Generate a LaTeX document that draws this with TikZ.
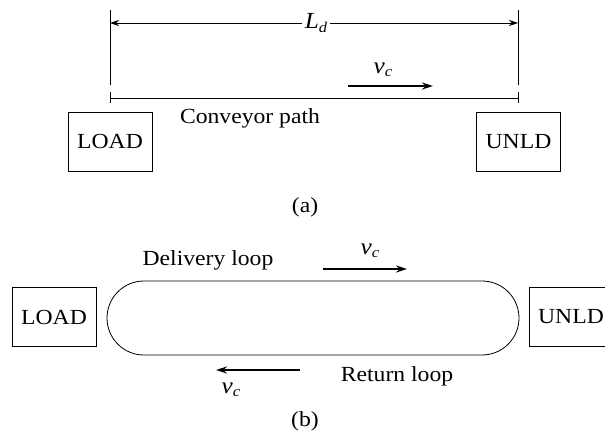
\documentclass[tikz,border=0pt]{standalone}
\usepackage{fontspec}
\setmainfont{Liberation Serif}[FakeStretch=1.1]
\usetikzlibrary{arrows.meta}
\newcommand{\mysub}[2]{{\fontsize{23}{24}\selectfont\textit{#1}}\raisebox{-0.35ex}{\fontsize{15}{15}\selectfont\textit{#2}}}
\begin{document}
\begin{tikzpicture}[x=1pt,y=-1pt,
  every node/.style={font=\fontsize{21.5}{23}\selectfont, inner sep=0pt},
  stationbox/.style={draw, line width=0.8pt, minimum width=84pt, minimum height=59pt},
  thin line/.style={line width=0.8pt},
  vel arrow/.style={line width=1.5pt, -{Stealth[length=11pt,width=7pt]}},
  dim arrow/.style={line width=0.8pt, -{Stealth[length=9pt,width=6pt]}}]
\useasboundingbox (0,0) rectangle (605,434);
% ---------- (a) ----------
\coordinate (lt) at (110,10);
\coordinate (lb) at (110,85);
\coordinate (rt) at (518,10);
\coordinate (rb) at (518,85);
\draw[thin line] (lt) -- (lb);
\draw[thin line] (rt) -- (rb);
\node (Ld) at (316,23) {\mysub{L}{d}};
\coordinate (dl) at (110,23);
\coordinate (dr) at (518,23);
\draw[dim arrow] (Ld.west) ++(-3,0) -- (dl);
\draw[dim arrow] (Ld.east) ++(3,0) -- (dr);
\coordinate (pl) at (110,98);
\coordinate (pr) at (518,98);
\draw[thin line] (pl) -- (pr);
\draw[thin line] (110,92) -- (110,103);
\draw[thin line] (518,92) -- (518,103);
\node (cp) at (250,118) {Conveyor path};
\coordinate (va1) at (348,86);
\coordinate (va2) at (433,86);
\draw[vel arrow] (va1) -- (va2);
\node (vca) at (383,70) {\mysub{v}{c}};
\node[stationbox] (loadA) at (110,141.5) {LOAD};
\node[stationbox] (unldA) at (518.5,141.5) {UNLD};
\node (a) at (305,207) {(a)};
% ---------- (b) ----------
\node[stationbox] (loadB) at (54,317) {LOAD};
\node[stationbox] (unldB) at (571,317) {UNLD};
\draw[thin line] (144,281) -- (482,281) arc[start angle=90, end angle=-90, x radius=37, y radius=-37] -- (144,355) arc[start angle=-90, end angle=-270, x radius=37, y radius=-37] -- cycle;
\node (del) at (208,260) {Delivery loop};
\coordinate (vb1) at (323,269);
\coordinate (vb2) at (407,269);
\draw[vel arrow] (vb1) -- (vb2);
\node (vcb) at (370,251) {\mysub{v}{c}};
\coordinate (vr1) at (300,370);
\coordinate (vr2) at (216,370);
\draw[vel arrow] (vr1) -- (vr2);
\node (vcr) at (231,390) {\mysub{v}{c}};
\node (ret) at (397,376) {Return loop};
\node (b) at (305,421) {(b)};
\end{tikzpicture}
\end{document}
